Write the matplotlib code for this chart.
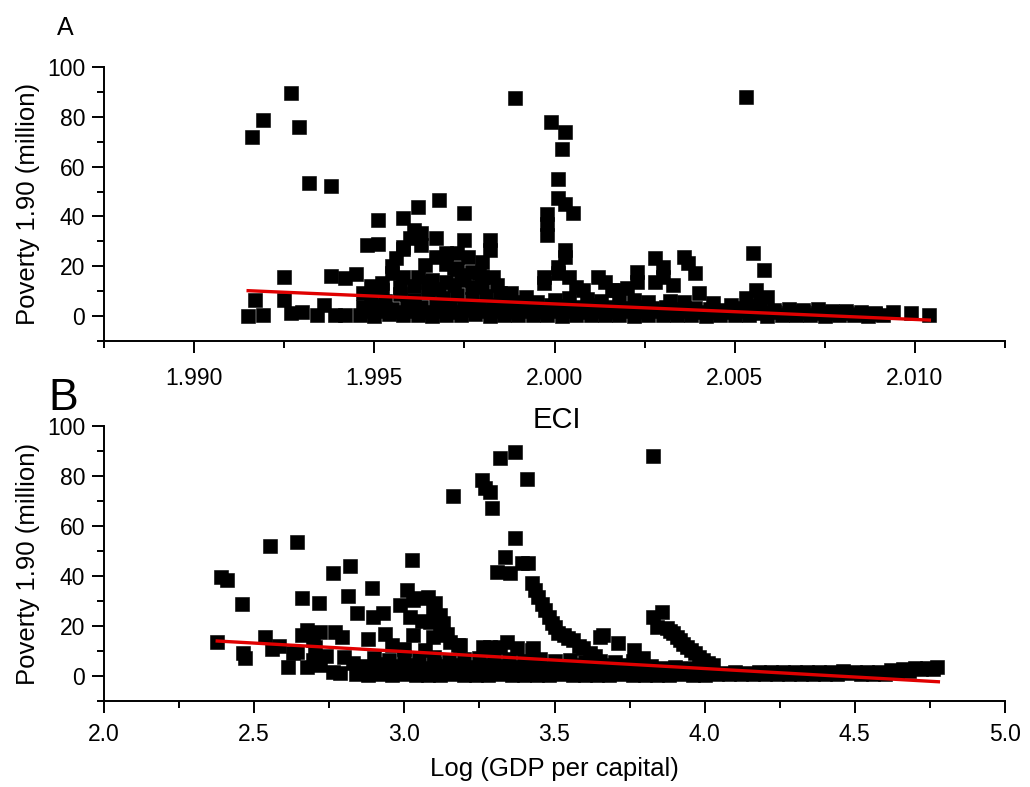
import numpy as np
import matplotlib.pyplot as plt
from matplotlib.ticker import MultipleLocator, FormatStrFormatter

plt.rcParams['font.family'] = ['Liberation Sans', 'DejaVu Sans']

# ---- Panel A: ECI vs poverty ----
a_outliers = [
    (1.9916, 72.0), (1.9919, 78.7), (1.9927, 89.5), (1.9929, 75.9), (1.9932, 53.4),
    (1.9938, 52.2), (1.9925, 15.7), (1.9938, 16.0), (1.9942, 15.3), (1.9945, 16.9),
    (1.9915, 0.2), (1.9917, 6.4), (1.9919, 0.4), (1.9925, 6.4), (1.9927, 1.2),
    (1.9930, 1.6), (1.9934, 0.4), (1.9936, 4.4), (1.9939, 0.4), (1.9942, 0.4),
    (1.9989, 87.4), (2.0053, 88.1),
]
a_cluster = [
    (1.9951, 38.6), (1.9958, 39.4), (1.9962, 43.8), (1.9968, 46.6), (1.9975, 41.4),
    (1.9948, 28.5), (1.9951, 28.9), (1.9958, 27.7), (1.9961, 34.5), (1.9963, 33.3),
    (1.9963, 28.5), (1.9960, 31.3), (1.9967, 31.3), (1.9975, 30.5), (1.9982, 30.5),
    (1.9982, 26.5), (1.9956, 23.3), (1.9958, 26.9), (1.9967, 23.7), (1.9970, 25.3),
    (1.9973, 25.3), (1.9976, 23.7), (1.9980, 21.7), (1.9955, 17.3), (1.9958, 15.7),
    (1.9962, 15.7), (1.9965, 13.7), (1.9972, 19.3), (1.9974, 16.5), (1.9977, 17.7),
    (1.9980, 15.7), (1.9983, 15.7), (1.9952, 13.3), (1.9952, 10.5), (1.9947, 9.2),
    (1.9985, 9.2), (1.9988, 9.2), (1.9966, 14.5), (1.9970, 13.8), (1.9975, 14.5),
    (1.9977, 11.8), (1.9973, 19.1), (1.9979, 17.1), (1.9992, 7.8), (1.9957, 11.5),
    (1.9968, 11.0), (1.9980, 12.0), (1.9961, 12.0), (1.9972, 12.5), (1.9955, 20.0),
    (1.9964, 20.5), (1.9970, 21.0), (1.9984, 12.5), (1.9949, 12.0),
    (1.9998, 41.0), (1.9998, 37.0), (1.9998, 32.5), (1.9999, 78.0), (2.0003, 74.0),
    (2.0002, 66.9), (2.0001, 54.9), (2.0001, 47.3), (2.0003, 45.0), (2.0005, 41.5),
    (2.0003, 26.5), (2.0003, 23.6), (1.9997, 15.8), (2.0001, 17.1), (2.0004, 15.8),
    (2.0001, 19.8), (1.9997, 13.1), (2.0006, 11.8), (2.0008, 10.4),
    (2.0012, 15.8), (2.0014, 13.8), (2.0016, 10.4), (2.0017, 10.4), (2.0020, 11.2),
    (2.0023, 17.8), (2.0023, 13.8), (2.0028, 23.2), (2.0030, 19.8), (2.0028, 13.8),
    (2.0030, 15.8), (2.0036, 23.9), (2.0037, 21.2), (2.0039, 17.1), (2.0033, 12.4),
    (2.0040, 9.1), (2.0055, 25.4), (2.0058, 18.7), (2.0056, 10.4), (2.0053, 7.1),
    (2.0059, 7.8),
]
a_base = [
    (1.9946, 0.5), (1.9950, 0.2), (1.9954, 0.8), (1.9958, 0.3), (1.9962, 0.6),
    (1.9966, 0.2), (1.9970, 0.5), (1.9974, 0.3), (1.9978, 0.7), (1.9982, 0.2),
    (1.9986, 0.4), (1.9990, 0.6), (1.9994, 0.3), (1.9998, 0.5), (2.0002, 0.2),
    (2.0006, 0.6), (2.0010, 0.4), (2.0014, 0.3), (2.0018, 0.5), (2.0022, 0.2),
    (2.0026, 0.4), (2.0030, 0.6), (2.0034, 0.3), (2.0038, 0.5), (2.0042, 0.2),
    (2.0046, 0.4), (2.0050, 0.3), (2.0054, 0.5), (2.0059, 0.2), (2.0063, 0.4),
    (2.0067, 0.3), (2.0071, 0.5), (2.0075, 0.2), (2.0079, 0.4), (2.0083, 0.3),
    (2.0087, 0.2), (2.0091, 0.4),
    (1.9948, 1.9), (1.9952, 2.1), (1.9956, 1.7), (1.9960, 2.2), (1.9964, 1.8),
    (1.9968, 2.0), (1.9972, 1.6), (1.9976, 2.3), (1.9980, 1.9), (1.9984, 2.1),
    (1.9988, 1.7), (1.9992, 2.0), (1.9996, 1.8), (2.0000, 2.2), (2.0004, 1.9),
    (2.0008, 1.7), (2.0012, 2.1), (2.0016, 1.8), (2.0020, 2.0), (2.0024, 1.6),
    (2.0028, 1.9), (2.0032, 1.7), (2.0036, 2.0), (2.0040, 1.8), (2.0044, 1.5),
    (2.0048, 1.7), (2.0052, 1.9), (2.0057, 1.4), (2.0061, 1.6), (2.0065, 1.3),
    (2.0069, 1.5), (2.0073, 1.2), (2.0077, 1.4), (2.0081, 1.1), (2.0085, 1.0),
    (2.0089, 0.8),
    (1.9947, 3.5), (1.9951, 4.2), (1.9955, 3.0), (1.9959, 4.5), (1.9963, 3.8),
    (1.9967, 4.8), (1.9971, 3.4), (1.9975, 4.1), (1.9979, 3.6), (1.9983, 4.4),
    (1.9987, 3.2), (1.9991, 3.9), (1.9995, 3.3), (1.9999, 4.6), (2.0003, 4.0),
    (2.0007, 3.5), (2.0011, 4.3), (2.0015, 3.7), (2.0019, 3.1), (2.0023, 3.8),
    (2.0027, 3.3), (2.0031, 3.6), (2.0035, 3.0), (2.0039, 3.4), (2.0043, 2.8),
    (2.0047, 2.5), (2.0051, 3.2), (2.0055, 3.9), (2.0061, 2.6), (2.0065, 2.9),
    (2.0069, 2.4), (2.0073, 2.7), (2.0077, 2.2), (2.0081, 2.0), (2.0085, 1.6),
    (2.0089, 1.2),
    (1.9949, 7.0), (1.9953, 6.0), (1.9957, 8.8), (1.9961, 6.5), (1.9965, 9.5),
    (1.9969, 7.2), (1.9973, 8.4), (1.9977, 6.8), (1.9981, 7.9), (1.9986, 6.2),
    (1.9990, 5.5), (1.9995, 5.8), (2.0000, 6.6), (2.0004, 7.4), (2.0009, 6.9),
    (2.0013, 6.1), (2.0018, 5.9), (2.0022, 6.4), (2.0026, 5.7), (2.0032, 6.0),
    (2.0036, 5.5), (2.0044, 5.2), (2.0049, 4.5), (2.0057, 5.8),
    (2.0094, 1.5), (2.0099, 1.1), (2.0104, 0.4),
]
a_fit_x = [1.9915, 2.0104]
a_fit_y = [10.2, -1.6]

# ---- Panel B: log GDP per capita vs poverty ----
b_outliers = [
    (2.375, 13.7), (2.389, 39.5), (2.408, 38.4), (2.459, 28.8), (2.462, 9.4),
    (2.471, 7.1), (2.552, 52.1), (2.642, 53.5), (2.536, 15.6), (2.558, 10.8),
    (2.583, 12.0), (2.614, 3.6), (2.660, 31.4), (2.716, 29.2), (2.763, 41.4),
    (2.819, 44.2), (2.813, 32.2), (2.841, 25.1), (2.891, 35.1), (2.894, 23.7),
    (2.930, 25.1), (2.935, 16.8), (2.880, 14.8), (2.630, 9.1), (2.675, 3.7),
    (2.697, 6.4), (2.658, 16.4), (2.675, 18.4), (2.697, 14.4), (2.719, 17.7),
    (2.769, 17.7), (2.792, 15.7), (2.642, 9.7), (2.703, 11.7), (2.719, 4.4),
    (2.764, 1.7), (2.786, 1.1), (2.740, 8.0), (2.800, 7.5), (2.830, 5.0),
    (3.163, 72.1), (3.258, 78.4), (3.269, 75.1), (3.285, 73.7), (3.291, 67.1),
    (3.318, 87.3), (3.369, 89.7), (3.408, 78.7), (3.369, 55.1), (3.308, 41.7),
    (3.335, 47.5), (3.352, 41.1), (3.391, 45.3), (3.413, 45.1), (3.829, 88.0),
]
b_cluster = [
    (3.025, 46.6), (3.008, 34.4), (2.986, 28.4), (3.019, 23.7), (3.052, 31.1),
    (3.080, 31.7), (3.030, 30.4), (3.097, 26.4), (3.085, 21.7), (3.119, 19.7),
    (3.135, 16.4), (3.152, 13.7), (3.185, 12.4), (3.030, 16.4), (3.102, 29.1),
    (3.119, 24.4), (3.130, 21.1), (3.141, 17.0), (3.097, 15.7), (3.180, 12.4),
    (3.060, 22.0), (3.070, 10.5), (3.000, 11.0), (2.960, 12.5),
    (3.424, 37.1), (3.435, 34.5), (3.446, 31.7), (3.457, 29.0), (3.468, 26.4),
    (3.480, 23.7), (3.491, 21.1), (3.502, 19.7), (3.513, 17.1), (3.530, 16.4),
    (3.545, 15.2), (3.563, 14.4), (3.580, 12.0), (3.596, 11.1), (3.618, 9.1),
    (3.635, 8.0), (3.652, 15.7), (3.660, 16.6), (3.713, 13.1), (3.763, 10.4),
    (3.796, 7.1), (3.263, 11.7), (3.285, 11.7), (3.341, 13.7), (3.374, 11.1),
    (3.430, 11.1), (3.319, 11.7), (3.424, 10.4),
    (3.829, 23.7), (3.857, 25.7), (3.840, 19.7), (3.874, 19.1), (3.885, 18.0),
    (3.896, 17.1), (3.907, 15.5), (3.918, 14.4), (3.929, 13.0), (3.940, 11.7),
    (3.955, 10.4), (3.968, 9.1), (3.982, 7.7), (3.996, 6.4), (4.012, 5.3),
    (4.029, 4.4),
]
b_base = [
    (2.84, 0.6), (2.88, 0.3), (2.92, 0.8), (2.96, 0.4), (3.00, 0.7), (3.04, 0.2),
    (3.08, 0.5), (3.12, 0.3), (3.16, 0.6), (3.20, 0.4), (3.24, 0.5), (3.28, 0.2),
    (3.32, 0.6), (3.36, 0.3), (3.40, 0.5), (3.44, 0.4), (3.48, 0.2), (3.52, 0.6),
    (3.56, 0.3), (3.60, 0.5), (3.64, 0.4), (3.68, 0.2), (3.72, 0.6), (3.76, 0.3),
    (3.80, 0.5), (3.84, 0.4), (3.88, 0.2), (3.92, 0.6), (3.96, 0.3), (4.00, 0.5),
    (4.04, 0.6), (4.08, 0.8), (4.12, 0.7), (4.16, 0.9), (4.20, 0.8), (4.24, 0.6),
    (4.28, 0.7), (4.32, 0.9), (4.36, 0.8), (4.40, 0.7), (4.44, 0.9), (4.48, 1.0),
    (4.52, 0.8), (4.56, 0.7), (4.60, 0.9), (4.64, 1.4), (4.68, 2.0), (4.72, 2.6),
    (4.76, 2.9), (4.775, 3.7), (4.74, 3.2),
    (2.86, 2.2), (2.90, 1.8), (2.94, 2.4), (2.98, 1.9), (3.02, 2.1), (3.06, 1.7),
    (3.10, 2.3), (3.14, 2.0), (3.18, 1.8), (3.22, 2.2), (3.26, 1.9), (3.30, 2.1),
    (3.34, 1.7), (3.38, 2.3), (3.42, 2.0), (3.46, 1.8), (3.50, 2.2), (3.54, 1.9),
    (3.58, 2.1), (3.62, 1.7), (3.66, 2.0), (3.70, 1.8), (3.74, 2.2), (3.78, 1.9),
    (3.82, 2.0), (3.86, 1.7), (3.90, 1.9), (3.94, 1.6), (3.98, 1.5), (4.02, 1.3),
    (4.06, 1.2), (4.10, 1.4), (4.14, 1.3), (4.18, 1.5), (4.22, 1.4), (4.26, 1.6),
    (4.30, 1.5), (4.34, 1.6), (4.38, 1.7), (4.42, 1.6), (4.46, 1.8), (4.50, 1.7),
    (4.54, 1.6), (4.58, 1.5), (4.62, 2.2), (4.66, 2.8), (4.70, 3.1),
    (2.86, 4.0), (2.90, 3.5), (2.94, 4.6), (2.98, 3.8), (3.02, 4.4), (3.06, 3.2),
    (3.10, 4.8), (3.14, 3.9), (3.18, 4.2), (3.22, 3.6), (3.26, 4.5), (3.30, 3.4),
    (3.34, 4.1), (3.38, 3.7), (3.42, 4.6), (3.46, 3.3), (3.50, 4.0), (3.54, 3.8),
    (3.58, 4.4), (3.62, 3.5), (3.66, 4.2), (3.70, 3.9), (3.74, 4.5), (3.78, 3.6),
    (3.82, 3.8), (3.86, 3.2), (3.90, 3.5), (3.94, 3.0), (3.98, 2.6),
    (2.90, 7.2), (2.95, 6.5), (3.00, 7.8), (3.05, 6.8), (3.10, 7.5), (3.15, 6.4),
    (3.20, 6.9), (3.25, 7.4), (3.30, 6.2), (3.35, 6.8), (3.40, 6.0), (3.45, 6.6),
    (3.50, 5.8), (3.55, 6.3), (3.60, 5.6), (3.65, 6.1), (3.70, 5.5), (3.76, 6.0),
]
b_fit_x = [2.377, 4.778]
b_fit_y = [14.0, -2.3]

TICK_FS = 16.5
LABEL_FS = 18.5
fig = plt.figure(figsize=(10.3, 7.87), dpi=100)
ax_a = fig.add_axes([0.10097, 0.5667, 0.8748, 0.3482])
ax_b = fig.add_axes([0.10097, 0.10928, 0.8748, 0.3494])


def style_axis(ax):
    for side in ('top', 'right'):
        ax.spines[side].set_visible(False)
    for side in ('left', 'bottom'):
        ax.spines[side].set_linewidth(1.4)
    ax.set_ylim(-10, 100)
    ax.yaxis.set_major_locator(MultipleLocator(20))
    ax.yaxis.set_minor_locator(MultipleLocator(10))
    ax.tick_params(which='major', direction='out', length=8.5, width=1.4,
                   labelsize=TICK_FS, pad=5)
    ax.tick_params(which='minor', direction='out', length=5, width=1.4)
    ax.set_ylabel('Poverty 1.90 (million)', fontsize=LABEL_FS, labelpad=5)


def draw_points(ax, groups, fit_x, fit_y):
    for grp in groups:
        xy = np.array(grp).T
        ax.plot(xy[0], xy[1], 's', color='black', markersize=9.8,
                markeredgewidth=0.4, zorder=2)
    ax.plot(fit_x, fit_y, '-', color='#e00000', linewidth=2.4, zorder=3)


draw_points(ax_a, [a_outliers, a_cluster, a_base], a_fit_x, a_fit_y)
style_axis(ax_a)
ax_a.set_xlim(1.9875, 2.0125)
ax_a.xaxis.set_major_locator(MultipleLocator(0.005))
ax_a.xaxis.set_minor_locator(MultipleLocator(0.0025))
ax_a.xaxis.set_major_formatter(FormatStrFormatter('%.3f'))
ax_a.tick_params(axis='x', pad=10)

draw_points(ax_b, [b_outliers, b_cluster, b_base], b_fit_x, b_fit_y)
style_axis(ax_b)
ax_b.set_xlim(2.0, 5.0)
ax_b.xaxis.set_major_locator(MultipleLocator(0.5))
ax_b.xaxis.set_minor_locator(MultipleLocator(0.25))
ax_b.xaxis.set_major_formatter(FormatStrFormatter('%.1f'))
ax_b.tick_params(axis='x', pad=7)
ax_b.set_xlabel('Log (GDP per capital)', fontsize=LABEL_FS, labelpad=8)

fig.text(57 / 1030, 1 - 35 / 787, 'A', fontsize=18, ha='left', va='baseline')
fig.text(48 / 1030, 1 - 410 / 787, 'B', fontsize=32, ha='left', va='baseline')
fig.text(557 / 1030, 1 - 428 / 787, 'ECI', fontsize=21, ha='center', va='baseline')

fig.savefig('out.png', dpi=100)
